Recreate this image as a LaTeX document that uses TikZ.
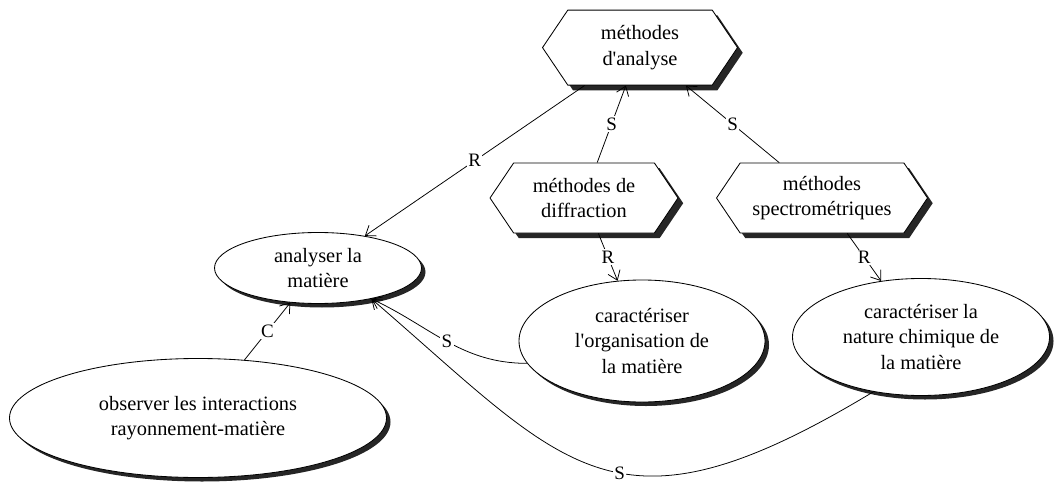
\documentclass[tikz,border=0pt]{standalone}
\usepackage{fontspec}
\setmainfont{Liberation Serif}
\usetikzlibrary{shapes.geometric, shapes.symbols, shadows, arrows.meta, positioning}
\tikzstyle{method} = [line width=0.6pt, signal, signal to=west and east, signal pointer angle=112, inner sep=0pt, align=center, fill=white, draw=black, font=\fontsize{14.5}{18}\selectfont, drop shadow={fill=black!85, opacity=1, shadow xshift=0.13cm, shadow yshift=-0.13cm}]
\tikzstyle{task} = [line width=0.6pt, ellipse, inner sep=0pt, align=center, fill=white, draw=black, font=\fontsize{14.5}{18}\selectfont, drop shadow={fill=black!85, opacity=1, shadow xshift=0.1cm, shadow yshift=-0.1cm}]
\tikzstyle{arrow} = [line width=0.55pt,->,>={Straight Barb[length=2.2mm,width=3.2mm]}]
\tikzstyle{lbl} = [fill=white, inner sep=1pt, font=\fontsize{13.5}{13.5}\selectfont]

\begin{document}
\begin{tikzpicture}[node distance=3cm]
\useasboundingbox (0,0) rectangle (26.425,-12.075);

\node (analyse) [method, minimum width=4.875cm, minimum height=1.875cm] at (16,-1.19) {méthodes\\d\textquotesingle analyse};
\node (diffraction) [method, minimum width=4.7cm, minimum height=1.75cm, below of=analyse, xshift=-1.4cm, yshift=-0.76cm] {méthodes de\\diffraction};
\node (spectro) [method, minimum width=5.275cm, minimum height=1.75cm, right of=diffraction, xshift=2.95cm, yshift=0cm] {méthodes\\spectrométriques};

\node (organisation) [task, minimum width=6.15cm, minimum height=3.05cm, below of=diffraction, xshift=1.45cm, yshift=-0.575cm] {caractériser\\l\textquotesingle organisation de\\la matière};
\node (nature) [task, minimum width=6.425cm, minimum height=2.925cm, right of=organisation, xshift=3.975cm, yshift=0.1cm] {caractériser la\\nature chimique de\\la matière};
\node (analyser) [task, minimum width=5.175cm, minimum height=1.775cm, left of=diffraction, xshift=-3.65cm, yshift=-1.75cm] {analyser la\\matière};
\node (observer) [task, minimum width=9.425cm, minimum height=2.975cm, below of=analyser, xshift=-3cm, yshift=-0.75cm] {observer les interactions\\rayonnement-matière};

\draw [arrow] (analyse) -- node[lbl] {R} (analyser);
\draw [arrow] (diffraction) -- node[lbl] {S} (analyse);
\draw [arrow] (spectro) -- node[lbl] {S} (analyse);
\draw [arrow] (diffraction) -- node[lbl] {R} (organisation);
\draw [arrow] (spectro) -- node[lbl] {R} (nature);
\draw [arrow] (observer) -- node[lbl] {C} (analyser);

\draw [arrow] (organisation.191) to[out=180, in=-25] node[lbl, pos=0.5] {S} (analyser.-30);
\draw [arrow] (nature.229) .. controls +(-6.5,-3.925) and +(4.925,-4.24) .. node[lbl, pos=0.45] {S} (analyser.-30);

\end{tikzpicture}
\end{document}
